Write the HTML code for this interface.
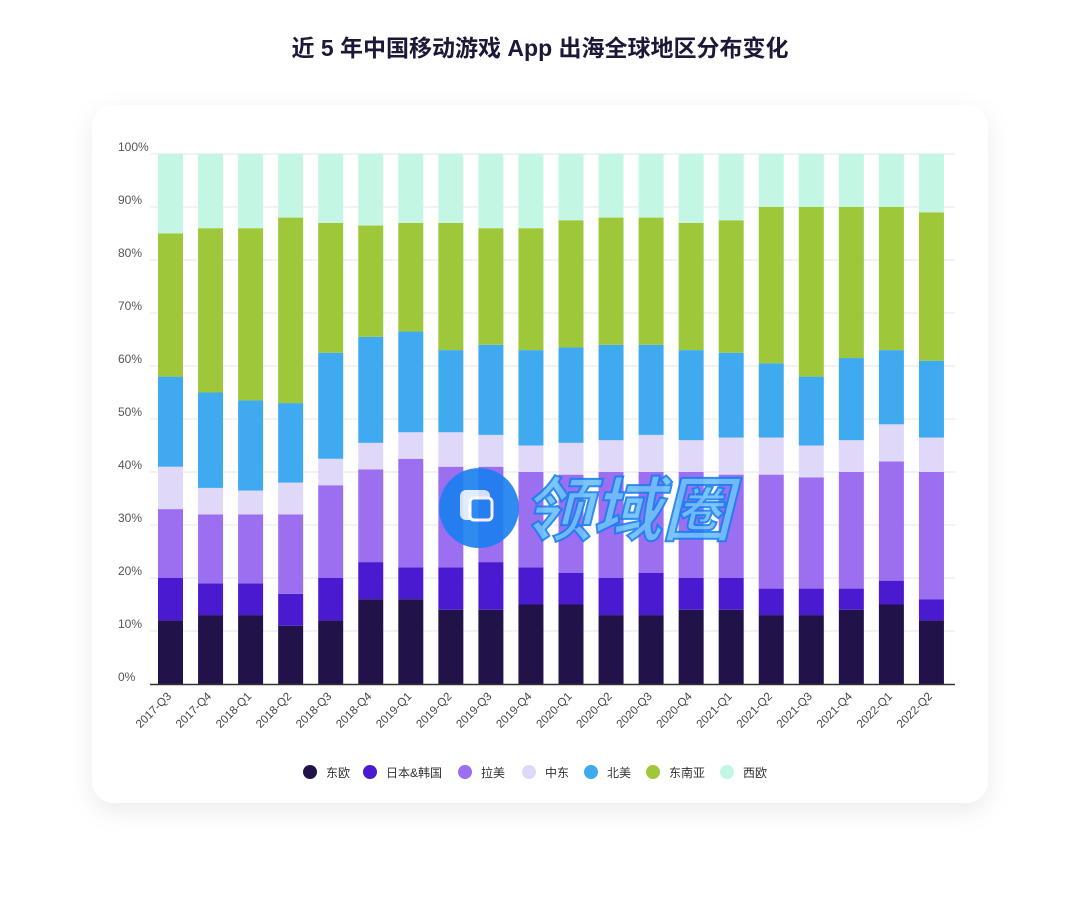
<!DOCTYPE html>
<html><head><meta charset="utf-8"><style>
body{margin:0;background:#fff;font-family:"Liberation Sans","Noto Sans CJK SC",sans-serif;}
</style></head><body>
<svg width="1080" height="917" xmlns="http://www.w3.org/2000/svg" style="display:block">
<defs><filter id="sh" x="-10%" y="-10%" width="120%" height="125%"><feDropShadow dx="0" dy="8" stdDeviation="12" flood-color="#000" flood-opacity="0.08"/></filter></defs>
<rect width="1080" height="917" fill="#fff"/>
<text x="540" y="56" text-anchor="middle" font-size="23" font-weight="bold" fill="#1c1838" font-family="Liberation Sans,Noto Sans CJK SC,sans-serif">近 5 年中国移动游戏 App 出海全球地区分布变化</text>
<rect x="92" y="105" width="896" height="698" rx="22" fill="#fff" filter="url(#sh)"/>
<g id="grid" stroke="#e6e6ea" stroke-width="1"></g>
<g id="ylab" font-size="12" fill="#555"></g>
<g id="bars"></g>
<line x1="150" y1="684.5" x2="955" y2="684.5" stroke="#333" stroke-width="1.5"/>
<g id="xlab" font-size="11.5" fill="#444"></g>
<g font-size="12" fill="#333">
<circle cx="310" cy="772" r="7" fill="#22124a"/><text x="326" y="777">东欧</text>
<circle cx="370" cy="772" r="7" fill="#4a1ad0"/><text x="386" y="777">日本&amp;韩国</text>
<circle cx="465" cy="772" r="7" fill="#9b6fef"/><text x="481" y="777">拉美</text>
<circle cx="529" cy="772" r="7" fill="#e0d8f8"/><text x="545" y="777">中东</text>
<circle cx="591" cy="772" r="7" fill="#3faaf0"/><text x="607" y="777">北美</text>
<circle cx="653" cy="772" r="7" fill="#9ec73a"/><text x="669" y="777">东南亚</text>
<circle cx="727" cy="772" r="7" fill="#c3f7e4"/><text x="743" y="777">西欧</text>
</g>
<g opacity="0.9">
<circle cx="479" cy="508" r="40" fill="#1a7ff0"/>
<rect x="460" y="490" width="30" height="30" rx="6" fill="#fff" opacity="0.85"/>
<rect x="470" y="498" width="22" height="22" rx="4" fill="#1a7ff0" stroke="#fff" stroke-width="3"/>
<text x="522" y="535" font-size="70" font-weight="bold" font-style="italic" fill="#6cc0fa" stroke="#1a7ff0" stroke-width="2" font-family="Noto Sans CJK SC,sans-serif">领域圈</text>
</g>
</svg>
<script>
const ns="http://www.w3.org/2000/svg";
function el(t,a,p,txt){const e=document.createElementNS(ns,t);for(const k in a)e.setAttribute(k,a[k]);if(txt)e.textContent=txt;document.getElementById(p).appendChild(e);return e;}
const y0=684,s=5.3;
for(let i=0;i<=10;i++){const y=y0-i*10*s;if(i>0)el('line',{x1:150,x2:955,y1:y,y2:y},'grid');el('text',{x:118,y:y-3},'ylab',i*10+'%');}
const d=[[12,20,33,41,58,85],[13,19,32,37,55,86],[13,19,32,36.5,53.5,86],[11,17,32,38,53,88],[12,20,37.5,42.5,62.5,87],[16,23,40.5,45.5,65.5,86.5],[16,22,42.5,47.5,66.5,87],[14,22,41,47.5,63,87],[14,23,41,47,64,86],[15,22,40,45,63,86],[15,21,39.5,45.5,63.5,87.5],[13,20,40,46,64,88],[13,21,40,47,64,88],[14,20,40,46,63,87],[14,20,39.5,46.5,62.5,87.5],[13,18,39.5,46.5,60.5,90],[13,18,39,45,58,90],[14,18,40,46,61.5,90],[15,19.5,42,49,63,90],[12,16,40,46.5,61,89]];
const c=['#22124a','#4a1ad0','#9b6fef','#e0d8f8','#3faaf0','#9ec73a','#c3f7e4'];
const lab=['2017-Q3','2017-Q4','2018-Q1','2018-Q2','2018-Q3','2018-Q4','2019-Q1','2019-Q2','2019-Q3','2019-Q4','2020-Q1','2020-Q2','2020-Q3','2020-Q4','2021-Q1','2021-Q2','2021-Q3','2021-Q4','2022-Q1','2022-Q2'];
d.forEach((r,i)=>{const x=158+i*40.05;const v=[0,...r,100];for(let j=0;j<7;j++){el('rect',{x:x,width:25,y:y0-v[j+1]*s,height:(v[j+1]-v[j])*s,fill:c[j]},'bars');}
const cx=x+14,cy=697;el('text',{x:cx,y:cy,'text-anchor':'end',transform:`rotate(-45 ${cx} ${cy})`},'xlab',lab[i]);});
</script>
</body></html>
